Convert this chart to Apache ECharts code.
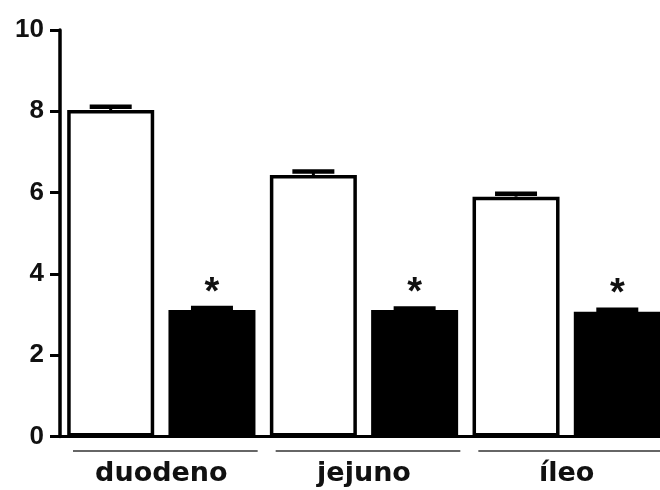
<!DOCTYPE html>
<html>
<head>
<meta charset="utf-8">
<script src="https://cdn.jsdelivr.net/npm/echarts@6/dist/echarts.min.js"></script>
<style>html,body{margin:0;padding:0;background:#fff;}#c{width:660px;height:490px;}</style>
</head>
<body>
<div id="c"></div>
<script>
const categories = ['duodeno', 'jejuno', 'íleo'];
const controlValues = [8.03, 6.43, 5.90];
const controlErr = [0.08, 0.09, 0.07];
const treatedValues = [3.11, 3.11, 3.07];
const treatedErr = [0.05, 0.04, 0.05];
const significance = ['*', '*', '*'];
const yTicks = [0, 2, 4, 6, 8, 10];

const BAR_W = 87, BAR_GAP = '16.4%';
const HALF_SEP = 87 * 1.164 / 2;

function errRender(vals, errs, sign) {
  return function (params, api) {
    const i = api.value(0);
    const top = api.coord([i, vals[i] + errs[i]]);
    const base = api.coord([i, vals[i]]);
    const cx = top[0] + sign * HALF_SEP;
    return {
      type: 'group',
      children: [
        { type: 'line', shape: { x1: cx, y1: base[1], x2: cx, y2: top[1] }, style: { stroke: '#000', lineWidth: 3 } },
        { type: 'line', shape: { x1: cx - 21, y1: top[1], x2: cx + 21, y2: top[1] }, style: { stroke: '#000', lineWidth: 4.5 } }
      ]
    };
  };
}

const chart = echarts.init(document.getElementById('c'));
chart.setOption({
  animation: false,
  backgroundColor: '#fff',
  grid: { left: 60, top: 30, width: 608, bottom: 53.5, containLabel: false, outerBoundsMode: 'none' },
  xAxis: {
    type: 'category',
    data: categories,
    axisLine: { show: true, lineStyle: { color: '#000', width: 3 } },
    axisTick: { show: false },
    axisLabel: { color: '#111', fontFamily: 'DejaVu Sans', fontWeight: 'bold', fontSize: 27, margin: 24 }
  },
  yAxis: {
    type: 'value', min: 0, max: 10, interval: 2,
    splitLine: { show: false },
    axisLine: { show: true, lineStyle: { color: '#000', width: 3.5 } },
    axisTick: { show: true, length: 10, lineStyle: { color: '#000', width: 3 } },
    axisLabel: { color: '#111', fontFamily: 'Liberation Sans', fontWeight: 'bold', fontSize: 26, margin: 16,
      formatter: v => yTicks.indexOf(v) >= 0 ? String(v) : '' }
  },
  series: [
    {
      type: 'bar', data: controlValues, barWidth: BAR_W, barGap: BAR_GAP,
      itemStyle: { color: '#fff', borderColor: '#000', borderWidth: 3.5 }
    },
    {
      type: 'bar', data: treatedValues, barWidth: BAR_W, barGap: BAR_GAP,
      itemStyle: { color: '#000', borderColor: '#000', borderWidth: 3.5 },
      label: { show: true, position: 'top', distance: -2, fontFamily: 'Liberation Sans', fontWeight: 'bold', fontSize: 38, color: '#111',
        formatter: p => significance[p.dataIndex] }
    },
    {
      type: 'custom', data: categories.map((c, i) => [i]), encode: { x: 0 }, z: 5,
      renderItem: errRender(controlValues, controlErr, -1)
    },
    {
      type: 'custom', data: categories.map((c, i) => [i]), encode: { x: 0 }, z: 5,
      renderItem: errRender(treatedValues, treatedErr, 1)
    },
    {
      type: 'custom', data: categories.map((c, i) => [i]), encode: { x: 0 }, clip: false, silent: true,
      renderItem: function (params, api) {
        const i = api.value(0);
        const p = api.coord([i, 0]);
        const bw = api.size([1, 0])[0];
        const y = p[1] + 14.5;
        return { type: 'line', shape: { x1: p[0] - bw / 2 + 13, y1: y, x2: p[0] + bw / 2 - 5, y2: y },
          style: { stroke: '#666', lineWidth: 2 } };
      }
    }
  ]
});
</script>
</body>
</html>
